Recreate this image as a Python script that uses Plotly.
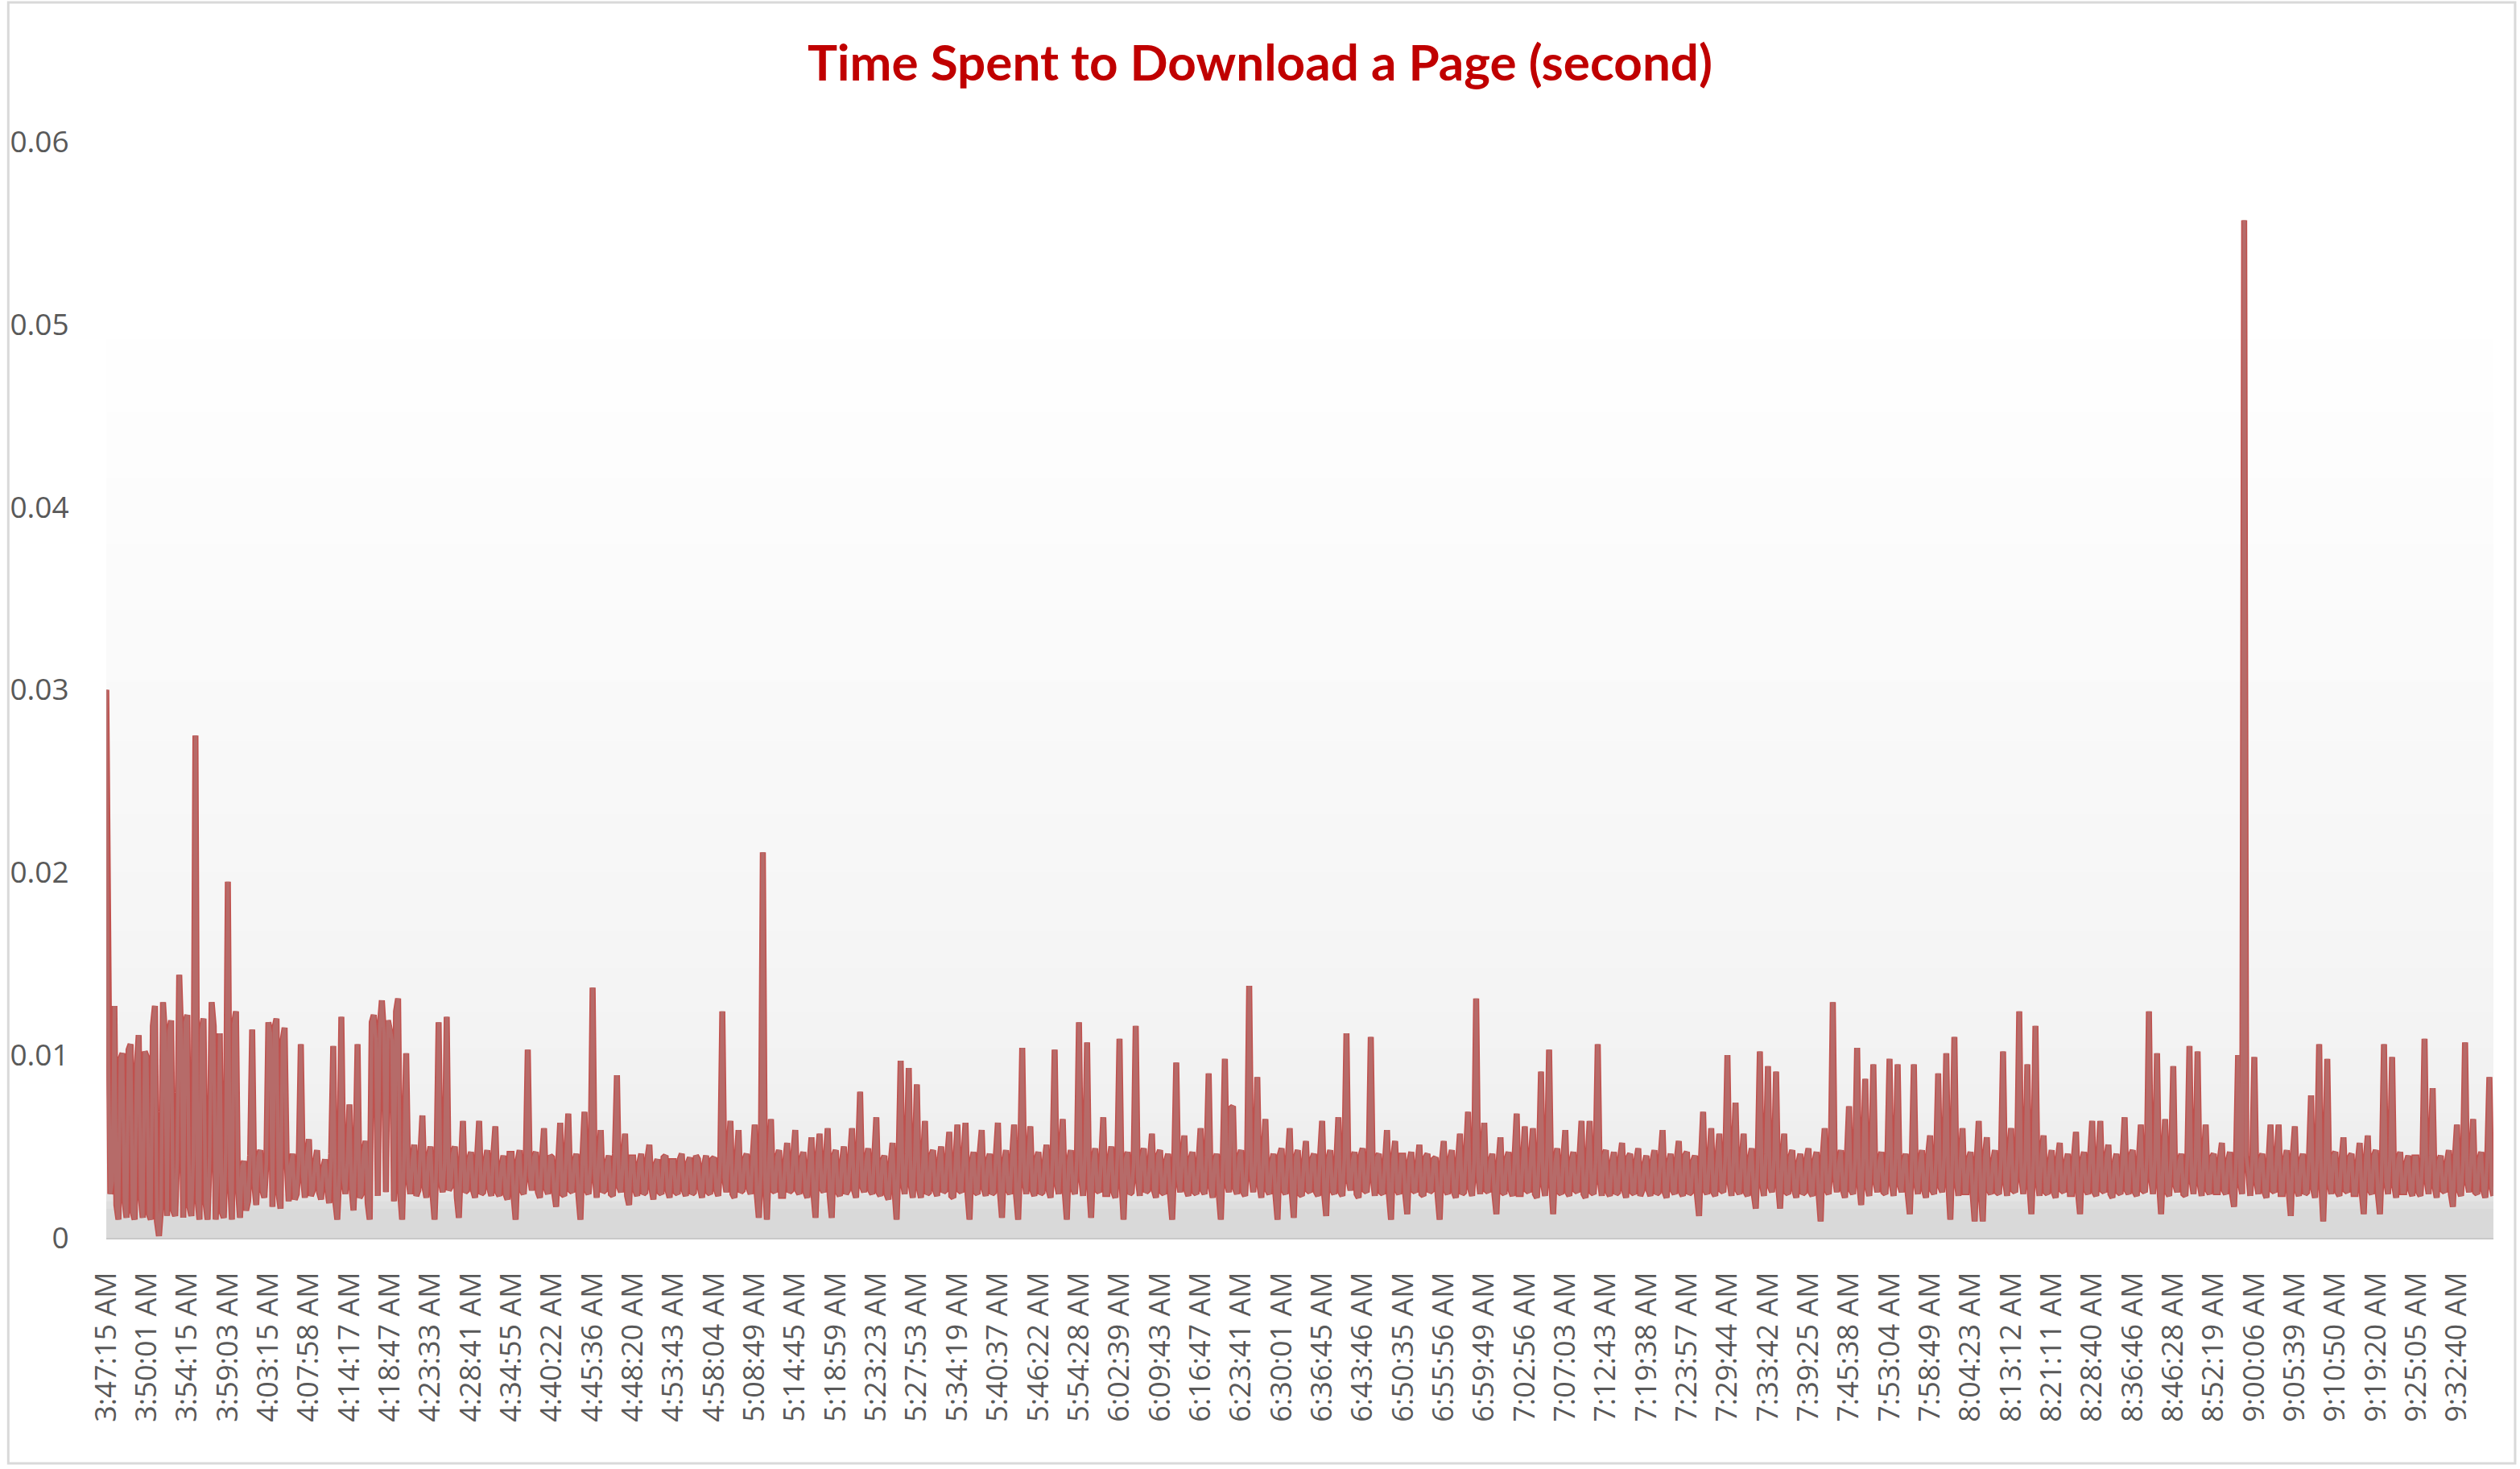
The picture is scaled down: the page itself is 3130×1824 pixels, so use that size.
import plotly.graph_objects as go

# X-axis tick labels (every 20th sample is labelled)
tick_labels = [
    "3:47:15 AM", "3:50:01 AM", "3:54:15 AM", "3:59:03 AM", "4:03:15 AM", "4:07:58 AM",
    "4:14:17 AM", "4:18:47 AM", "4:23:33 AM", "4:28:41 AM", "4:34:55 AM", "4:40:22 AM",
    "4:45:36 AM", "4:48:20 AM", "4:53:43 AM", "4:58:04 AM", "5:08:49 AM", "5:14:45 AM",
    "5:18:59 AM", "5:23:23 AM", "5:27:53 AM", "5:34:19 AM", "5:40:37 AM", "5:46:22 AM",
    "5:54:28 AM", "6:02:39 AM", "6:09:43 AM", "6:16:47 AM", "6:23:41 AM", "6:30:01 AM",
    "6:36:45 AM", "6:43:46 AM", "6:50:35 AM", "6:55:56 AM", "6:59:49 AM", "7:02:56 AM",
    "7:07:03 AM", "7:12:43 AM", "7:19:38 AM", "7:23:57 AM", "7:29:44 AM", "7:33:42 AM",
    "7:39:25 AM", "7:45:38 AM", "7:53:04 AM", "7:58:49 AM", "8:04:23 AM", "8:13:12 AM",
    "8:21:11 AM", "8:28:40 AM", "8:36:46 AM", "8:46:28 AM", "8:52:19 AM", "9:00:06 AM",
    "9:05:39 AM", "9:10:50 AM", "9:19:20 AM", "9:25:05 AM", "9:32:40 AM",
]
label_step = 20

# Download time per page, in milliseconds, 20 samples per label
time_ms = [
    30.0, 9.6, 2.4, 3.1, 12.7, 1.8, 1.0, 9.8, 10.1, 2.0, 1.1, 10.3, 10.6, 1.4, 1.0, 9.4, 11.1, 2.2, 1.1, 10.2,
    9.9, 1.3, 1.0, 11.6, 12.7, 0.9, 0.1, 1.6, 12.9, 11.0, 1.2, 11.3, 11.9, 1.5, 1.2, 4.3, 14.4, 10.9, 1.1, 11.8,
    12.2, 1.7, 1.2, 4.6, 27.5, 2.1, 1.0, 11.4, 12.0, 1.9, 1.0, 4.4, 12.9, 11.6, 1.0, 3.6, 11.2, 1.4, 1.1, 4.8,
    19.5, 3.2, 1.0, 11.7, 12.4, 2.6, 1.1, 3.9, 4.2, 1.5, 2.0, 4.5, 11.4, 3.0, 1.8, 4.4, 4.8, 2.6, 2.2, 4.1,
    11.8, 11.2, 1.7, 11.5, 12.0, 2.4, 1.6, 10.8, 11.5, 4.3, 2.0, 4.0, 4.6, 2.1, 2.4, 4.2, 10.6, 3.4, 2.2, 4.5,
    5.4, 2.3, 2.6, 4.1, 4.8, 2.5, 2.1, 3.8, 4.3, 2.7, 1.9, 4.6, 10.5, 2.0, 1.0, 3.5, 12.1, 3.2, 2.4, 4.2,
    7.3, 2.8, 1.5, 4.4, 10.6, 2.2, 2.4, 4.7, 5.3, 1.9, 1.0, 11.8, 12.2, 10.9, 2.3, 11.6, 13.0, 11.2, 2.5, 11.9,
    11.5, 10.8, 2.0, 12.4, 13.1, 2.5, 1.0, 4.6, 10.1, 3.3, 2.4, 4.2, 5.1, 2.3, 2.6, 4.5, 6.7, 2.8, 2.2, 4.4,
    5.0, 2.4, 1.0, 4.3, 11.8, 3.1, 2.5, 4.1, 12.1, 2.6, 2.8, 4.6, 5.0, 2.2, 1.1, 4.0, 6.4, 2.5, 2.6, 4.3,
    4.7, 2.6, 2.2, 4.4, 6.4, 2.4, 2.5, 4.1, 4.8, 2.7, 2.3, 4.5, 6.1, 2.5, 2.3, 3.9, 4.5, 2.4, 2.1, 4.6,
    4.6, 2.3, 1.0, 4.2, 4.8, 2.6, 2.4, 4.0, 10.3, 3.4, 2.6, 4.4, 4.7, 2.5, 2.2, 4.3, 6.0, 2.7, 2.4, 4.5,
    4.4, 2.5, 1.7, 4.1, 6.3, 2.4, 2.3, 4.6, 6.8, 2.6, 2.5, 4.2, 4.6, 2.3, 1.0, 4.4, 6.9, 2.6, 2.4, 4.0,
    13.7, 3.5, 2.2, 4.3, 5.9, 2.5, 2.6, 4.1, 4.5, 2.4, 2.3, 4.6, 8.9, 2.8, 2.5, 4.2, 5.7, 2.3, 1.8, 4.4,
    4.4, 2.6, 2.3, 4.1, 4.6, 2.4, 2.5, 4.3, 5.1, 2.7, 2.1, 4.0, 4.3, 2.5, 2.4, 4.4, 4.5, 2.6, 2.2, 4.2,
    4.2, 2.5, 2.4, 4.3, 4.6, 2.6, 2.3, 4.1, 4.4, 2.4, 2.5, 4.5, 4.3, 2.7, 2.2, 4.0, 4.5, 2.5, 2.4, 4.3,
    4.4, 2.6, 2.3, 4.2, 12.4, 3.3, 2.5, 4.5, 6.4, 2.4, 2.2, 4.1, 5.9, 2.5, 2.6, 4.3, 4.6, 2.7, 2.4, 4.4,
    6.2, 2.4, 1.1, 3.6, 21.1, 3.4, 1.0, 4.2, 6.5, 2.6, 2.5, 4.4, 4.8, 2.3, 2.3, 4.1, 5.2, 2.5, 2.6, 4.5,
    5.9, 2.6, 2.4, 4.3, 4.7, 2.5, 2.2, 4.0, 5.5, 2.4, 1.1, 4.4, 5.7, 2.7, 2.5, 4.2, 6.0, 2.3, 1.1, 4.5,
    4.8, 2.5, 2.3, 4.1, 5.0, 2.4, 2.6, 4.3, 6.0, 2.6, 2.2, 4.5, 8.0, 2.8, 2.5, 4.2, 4.9, 2.6, 2.4, 4.4,
    6.6, 2.5, 2.3, 4.2, 4.5, 2.4, 2.1, 4.0, 5.2, 2.6, 1.0, 4.3, 9.7, 3.1, 2.4, 4.6, 9.3, 2.9, 2.2, 4.4,
    8.4, 2.7, 2.2, 4.1, 6.4, 2.4, 2.5, 4.5, 4.8, 2.6, 2.3, 4.2, 5.0, 2.5, 2.6, 4.4, 5.8, 2.3, 2.2, 4.0,
    6.2, 2.6, 2.5, 4.3, 6.3, 2.4, 1.0, 4.1, 4.7, 2.5, 2.4, 4.6, 5.9, 2.7, 2.3, 4.2, 4.6, 2.4, 2.5, 4.5,
    6.3, 2.5, 1.1, 4.0, 4.8, 2.6, 2.4, 4.4, 6.2, 2.3, 1.0, 4.2, 10.4, 3.2, 2.4, 4.5, 6.1, 2.6, 2.3, 4.3,
    4.7, 2.4, 2.5, 4.1, 5.1, 2.6, 2.2, 4.3, 10.3, 3.0, 2.4, 4.6, 6.5, 2.5, 1.0, 4.2, 4.8, 2.7, 2.4, 4.4,
    11.8, 3.4, 2.3, 4.5, 10.7, 2.9, 1.1, 4.1, 4.9, 2.6, 2.5, 4.3, 6.6, 2.4, 2.4, 4.2, 5.0, 2.5, 2.2, 4.6,
    10.9, 3.1, 1.0, 4.3, 4.7, 2.4, 2.5, 4.1, 11.6, 3.3, 2.3, 4.4, 4.9, 2.5, 2.6, 4.2, 5.7, 2.6, 2.2, 4.5,
    4.8, 2.5, 2.4, 4.2, 4.6, 2.3, 1.0, 4.0, 9.6, 3.2, 2.5, 4.4, 5.6, 2.6, 2.3, 4.3, 4.7, 2.5, 2.4, 4.1,
    6.0, 2.6, 2.4, 4.5, 9.0, 2.8, 2.2, 4.2, 4.6, 2.4, 1.0, 4.3, 9.8, 3.0, 2.5, 7.1, 7.2, 2.7, 2.4, 4.4,
    4.8, 2.5, 2.3, 4.3, 13.8, 3.5, 2.5, 4.2, 8.8, 2.9, 2.2, 4.4, 6.5, 2.6, 2.4, 4.1, 4.6, 2.3, 1.0, 4.5,
    4.9, 2.6, 2.4, 4.2, 6.0, 2.5, 1.1, 4.4, 4.8, 2.4, 2.3, 4.1, 5.3, 2.6, 2.5, 4.3, 4.6, 2.5, 2.3, 4.5,
    6.4, 2.4, 1.2, 4.3, 4.8, 2.6, 2.4, 4.1, 6.6, 2.5, 2.3, 4.4, 11.2, 3.2, 2.6, 4.2, 4.7, 2.4, 2.2, 4.5,
    4.9, 2.6, 2.5, 4.2, 11.0, 3.3, 2.3, 4.4, 4.6, 2.5, 2.4, 4.1, 5.9, 2.3, 1.0, 4.3, 5.3, 2.6, 2.4, 4.5,
    4.5, 2.4, 1.3, 4.2, 4.7, 2.6, 2.5, 4.0, 5.1, 2.4, 2.3, 4.4, 4.6, 2.5, 2.6, 4.3, 4.4, 2.3, 1.0, 4.1,
    5.3, 2.6, 2.4, 4.3, 4.8, 2.5, 2.2, 4.1, 5.7, 2.4, 2.5, 4.6, 6.9, 2.7, 2.3, 4.2, 13.1, 3.4, 2.4, 4.4,
    6.3, 2.6, 2.5, 4.2, 4.6, 2.4, 1.3, 4.0, 5.5, 2.5, 2.4, 4.3, 4.7, 2.6, 2.3, 4.5, 6.8, 2.4, 2.4, 4.1,
    6.1, 2.6, 2.5, 4.4, 6.0, 2.4, 2.2, 4.2, 9.1, 3.0, 2.3, 4.5, 10.3, 3.1, 1.3, 4.1, 4.9, 2.5, 2.4, 4.3,
    5.9, 2.5, 2.3, 4.2, 4.7, 2.6, 2.5, 4.4, 6.4, 2.4, 2.2, 4.1, 6.4, 2.5, 2.4, 4.3, 10.6, 3.2, 2.3, 4.5,
    4.8, 2.5, 2.3, 4.1, 4.7, 2.4, 2.5, 4.3, 5.2, 2.6, 2.2, 4.4, 4.6, 2.5, 2.4, 4.2, 4.9, 2.3, 2.6, 4.0,
    4.5, 2.6, 2.3, 4.2, 4.8, 2.4, 2.5, 4.4, 5.9, 2.5, 2.2, 4.1, 4.6, 2.6, 2.4, 4.3, 5.3, 2.5, 2.3, 4.5,
    4.7, 2.4, 2.5, 4.2, 4.5, 2.3, 1.2, 4.4, 6.9, 2.6, 2.4, 4.1, 6.0, 2.5, 2.3, 4.3, 5.7, 2.6, 2.5, 4.5,
    10.0, 3.1, 2.3, 4.4, 7.4, 2.6, 2.4, 4.2, 5.7, 2.5, 2.3, 4.3, 4.9, 2.4, 1.6, 4.5, 10.2, 3.0, 2.3, 4.6,
    9.4, 2.8, 2.5, 4.3, 9.1, 2.9, 1.6, 4.2, 5.7, 2.5, 2.4, 4.4, 4.8, 2.6, 2.2, 4.1, 4.6, 2.4, 2.5, 4.3,
    4.9, 2.5, 2.3, 4.2, 4.7, 2.4, 0.9, 4.4, 6.0, 2.6, 2.4, 4.3, 12.9, 3.4, 2.5, 4.1, 4.8, 2.6, 2.2, 4.5,
    7.2, 2.6, 2.4, 4.3, 10.4, 3.0, 1.8, 4.5, 8.7, 2.8, 2.3, 4.4, 9.5, 3.1, 2.5, 4.2, 4.7, 2.5, 2.4, 4.6,
    9.8, 3.0, 2.3, 4.4, 9.5, 2.9, 2.5, 4.2, 4.6, 2.4, 1.3, 4.3, 9.5, 3.1, 2.4, 4.1, 4.8, 2.6, 2.2, 4.5,
    5.6, 2.6, 2.4, 4.3, 9.0, 2.8, 2.5, 4.5, 10.1, 3.0, 1.0, 4.4, 11.0, 3.2, 2.3, 4.2, 6.0, 2.5, 2.5, 4.3,
    4.7, 2.4, 0.9, 4.2, 6.4, 2.5, 0.9, 4.4, 5.5, 2.6, 2.4, 4.1, 4.8, 2.5, 2.4, 4.3, 10.2, 3.1, 2.3, 4.5,
    6.0, 2.6, 2.5, 4.4, 12.4, 3.3, 2.4, 4.2, 9.5, 2.9, 1.3, 4.3, 11.6, 3.2, 2.3, 4.5, 5.6, 2.5, 2.4, 4.1,
    4.8, 2.5, 2.2, 4.3, 5.2, 2.6, 2.5, 4.1, 4.6, 2.4, 2.4, 4.4, 5.8, 2.5, 1.3, 4.2, 4.7, 2.6, 2.4, 4.5,
    6.4, 2.5, 2.3, 4.2, 6.4, 2.6, 2.5, 4.4, 5.1, 2.4, 2.2, 4.1, 4.6, 2.5, 2.4, 4.3, 6.6, 2.6, 2.4, 4.5,
    4.8, 2.5, 2.3, 4.2, 6.2, 2.6, 2.5, 4.4, 12.4, 3.3, 2.4, 4.3, 10.1, 3.0, 1.3, 4.1, 6.5, 2.5, 2.3, 4.4,
    9.4, 2.9, 2.5, 4.2, 4.6, 2.4, 2.3, 4.5, 10.5, 3.2, 2.4, 4.3, 10.2, 3.0, 2.3, 4.1, 6.2, 2.6, 2.4, 4.4,
    4.6, 2.5, 2.5, 4.3, 5.2, 2.6, 2.4, 4.2, 4.7, 2.4, 1.7, 4.4, 10.0, 3.0, 2.4, 55.7, 4.5, 3.6, 2.3, 4.2,
    9.9, 3.1, 2.4, 4.3, 4.6, 2.5, 2.2, 4.1, 6.2, 2.6, 2.5, 4.4, 6.2, 2.4, 2.4, 4.2, 4.8, 2.5, 1.2, 4.5,
    6.1, 2.6, 2.3, 4.2, 4.6, 2.4, 2.5, 4.4, 7.8, 2.7, 2.2, 4.3, 10.6, 3.1, 0.9, 4.1, 9.8, 3.0, 2.4, 4.5,
    4.7, 2.5, 2.3, 4.2, 5.5, 2.6, 2.5, 4.4, 4.6, 2.4, 2.4, 4.1, 5.2, 2.5, 1.3, 4.3, 5.6, 2.6, 2.4, 4.5,
    4.8, 2.4, 1.3, 4.2, 10.6, 3.1, 2.4, 4.4, 9.9, 2.9, 2.2, 4.3, 4.7, 2.5, 2.5, 4.1, 4.5, 2.6, 2.3, 4.4,
    4.4, 2.5, 2.3, 4.3, 10.9, 3.2, 2.4, 4.5, 8.2, 2.8, 2.2, 4.2, 4.5, 2.6, 2.5, 4.1, 4.8, 2.4, 1.7, 4.4,
    6.2, 2.6, 2.3, 4.2, 10.7, 3.1, 2.5, 4.4, 6.5, 2.5, 2.4, 4.3, 4.7, 2.6, 2.2, 4.5, 8.8, 2.8, 2.3,
]

y_ticks = [0, 0.01, 0.02, 0.03, 0.04, 0.05, 0.06]
y_tick_text = ["0", "0.01", "0.02", "0.03", "0.04", "0.05", "0.06"]

seconds = [v / 1000.0 for v in time_ms]
x_idx = list(range(len(seconds)))
tick_vals = [i * label_step for i in range(len(tick_labels))]

W, H = 3130, 1824
ML, MR, MT, MB = 125, 33, 176, 287
PW = W - ML - MR
PH = H - MT - MB

fig = go.Figure()
fig.add_trace(go.Scatter(x=x_idx, y=seconds, mode="lines",
                         line=dict(color="#c0504d", width=7.5),
                         hoverinfo="skip", showlegend=False))
fig.add_trace(go.Scatter(x=x_idx, y=seconds, mode="lines",
                         line=dict(color="#b66b69", width=4.5),
                         showlegend=False))

# Plot-area vertical gradient (white at top to light gray at bottom)
stops = [(0.0, 217), (0.024, 217), (0.045, 234), (0.12, 241), (0.3, 246),
         (0.6, 251), (0.85, 255), (1.0, 255)]

def gray_at(f):
    for (f0, g0), (f1, g1) in zip(stops[:-1], stops[1:]):
        if f0 <= f <= f1:
            t = (f - f0) / (f1 - f0) if f1 > f0 else 0
            return g0 + (g1 - g0) * t
    return 255

shapes = []
nb = 150
for i in range(nb):
    f0 = i / nb
    f1 = (i + 1) / nb
    g = int(round(gray_at((f0 + f1) / 2)))
    shapes.append(dict(type="rect", xref="x domain", yref="y domain",
                       x0=0, x1=1, y0=f0, y1=min(1.0, f1 + 0.002),
                       fillcolor=f"rgb({g},{g},{g})", line=dict(width=0),
                       layer="below"))

# Outer chart border
bx0 = (3 - ML) / PW
bx1 = (W - 6 - ML) / PW
by0 = -(H - 7 - (H - MB)) / PH
by1 = (H - MB - 3) / PH
shapes.append(dict(type="rect", xref="paper", yref="paper",
                   x0=bx0, x1=bx1, y0=by0, y1=by1,
                   line=dict(color="#d9d9d9", width=3), fillcolor="rgba(0,0,0,0)",
                   layer="above"))

fig.update_layout(
    width=W, height=H,
    margin=dict(l=ML, r=MR, t=MT, b=MB, pad=0),
    paper_bgcolor="white",
    plot_bgcolor="white",
    shapes=shapes,
    title=dict(text="<b>Time Spent to Download a Page (second)</b>",
               font=dict(family="Lato, Open Sans, sans-serif", size=62, color="#c00000"),
               x=0.5, xref="container", xanchor="center",
               y=1 - 78 / H, yref="container", yanchor="middle"),
    xaxis=dict(range=[0, len(seconds) - 1], tickmode="array",
               tickvals=tick_vals, ticktext=tick_labels, tickangle=-90,
               tickfont=dict(family="Open Sans, sans-serif", size=36, color="#595959"),
               ticks="outside", ticklen=26, tickcolor="rgba(0,0,0,0)",
               showgrid=False, zeroline=False,
               showline=True, linecolor="#c9c9c9", linewidth=2),
    yaxis=dict(range=[0, 0.06], tickmode="array", tickvals=y_ticks,
               ticktext=y_tick_text,
               tickfont=dict(family="Open Sans, sans-serif", size=37, color="#595959"),
               ticks="outside", ticklen=38, tickcolor="rgba(0,0,0,0)",
               showgrid=False, zeroline=False, showline=False),
)

fig.write_html("out.html", config={"displayModeBar": False},
               post_script="document.body.style.margin='0';document.body.style.overflow='hidden';")
